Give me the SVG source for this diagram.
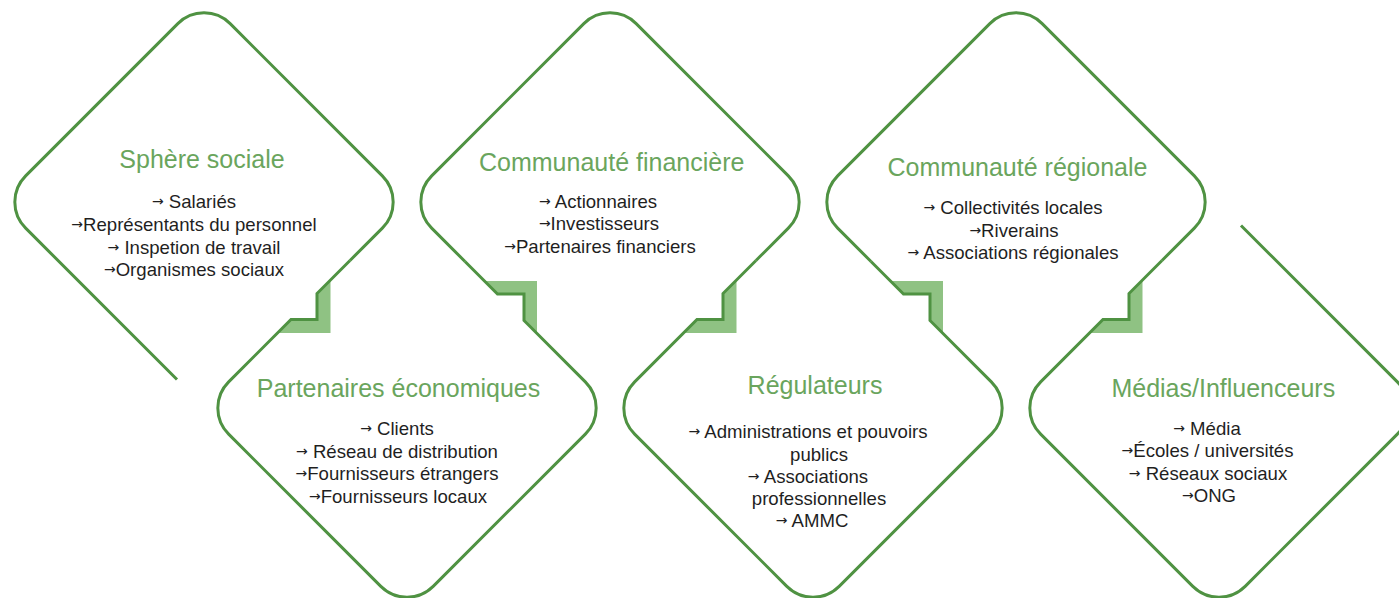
<svg xmlns="http://www.w3.org/2000/svg" width="1399" height="598" viewBox="0 0 1399 598">
<style>
.t{font-family:"Liberation Sans",Arial,sans-serif;font-size:25px;fill:#6aa55d;text-anchor:middle}
.b{font-family:"Liberation Sans",Arial,sans-serif;font-size:18.6px;fill:#1f1f1f;text-anchor:middle}
.ar{font-family:"DejaVu Sans",sans-serif;font-size:14px}
.outline{fill:none;stroke:#4f9242;stroke-width:3;stroke-linejoin:miter;stroke-linecap:butt}
.step{fill:#8fc283;stroke:none}
</style>
<rect width="1399" height="598" fill="#ffffff"/>
<g id="links">
<polygon class="step" points="277.5,333 330.5,333 330.5,280 317,293.5 317,319.5 291,319.5"/>
<polygon class="step" points="683.5,333 736.5,333 736.5,280 723,293.5 723,319.5 697,319.5"/>
<polygon class="step" points="1089.5,333 1142.5,333 1142.5,280 1129,293.5 1129,319.5 1103,319.5"/>
<polygon class="step" points="484.5,281 537,281 537,333.5 524,320.5 524,294 497.5,294"/>
<polygon class="step" points="890.5,281 943,281 943,333.5 930,320.5 930,294 903.5,294"/>
</g>
<g id="sphere-sociale">
<path class="outline" d="M 177 379.5 L 25.66 228.16 A 37 37 0 0 1 25.66 175.84 L 177.84 23.66 A 37 37 0 0 1 230.16 23.66 L 382.34 175.84 A 37 37 0 0 1 382.34 228.16 L 350 260.5"/>
<text class="t" x="202" y="167.5">Sphère sociale</text>
<text class="b" x="194" y="208.3"><tspan class="ar" dy="-2">→</tspan><tspan dy="2"> Salariés</tspan></text>
<text class="b" x="194" y="231"><tspan class="ar" dy="-2">→</tspan><tspan dy="2">Représentants du personnel</tspan></text>
<text class="b" x="194" y="253.5"><tspan class="ar" dy="-2">→</tspan><tspan dy="2"> Inspetion de travail</tspan></text>
<text class="b" x="194" y="276"><tspan class="ar" dy="-2">→</tspan><tspan dy="2">Organismes sociaux</tspan></text>
</g>
<g id="partenaires-economiques">
<path class="outline" d="M 350 260.5 L 317 293.5 L 317 319.5 L 291 319.5 L 228.66 381.84 A 37 37 0 0 0 228.66 434.16 L 380.84 586.34 A 37 37 0 0 0 433.16 586.34 L 585.34 434.16 A 37 37 0 0 0 585.34 381.84 L 524 320.5 L 524 294 L 497.5 294 L 465 261.5"/>
<text class="t" x="398.5" y="396.7">Partenaires économiques</text>
<text class="b" x="397" y="435"><tspan class="ar" dy="-2">→</tspan><tspan dy="2"> Clients</tspan></text>
<text class="b" x="397" y="457.5"><tspan class="ar" dy="-2">→</tspan><tspan dy="2"> Réseau de distribution</tspan></text>
<text class="b" x="397" y="480"><tspan class="ar" dy="-2">→</tspan><tspan dy="2">Fournisseurs étrangers</tspan></text>
<text class="b" x="398" y="502.5"><tspan class="ar" dy="-2">→</tspan><tspan dy="2">Fournisseurs locaux</tspan></text>
</g>
<g id="communaute-financiere">
<path class="outline" d="M 465 261.5 L 431.66 228.16 A 37 37 0 0 1 431.66 175.84 L 583.84 23.66 A 37 37 0 0 1 636.16 23.66 L 788.34 175.84 A 37 37 0 0 1 788.34 228.16 L 756 260.5"/>
<text class="t" x="611.7" y="170.5">Communauté financière</text>
<text class="b" x="598" y="207.7"><tspan class="ar" dy="-2">→</tspan><tspan dy="2"> Actionnaires</tspan></text>
<text class="b" x="599" y="230"><tspan class="ar" dy="-2">→</tspan><tspan dy="2">Investisseurs</tspan></text>
<text class="b" x="600" y="252.5"><tspan class="ar" dy="-2">→</tspan><tspan dy="2">Partenaires financiers</tspan></text>
</g>
<g id="regulateurs">
<path class="outline" d="M 756 260.5 L 723 293.5 L 723 319.5 L 697 319.5 L 634.66 381.84 A 37 37 0 0 0 634.66 434.16 L 786.84 586.34 A 37 37 0 0 0 839.16 586.34 L 991.34 434.16 A 37 37 0 0 0 991.34 381.84 L 930 320.5 L 930 294 L 903.5 294 L 871 261.5"/>
<text class="t" x="815" y="394.3">Régulateurs</text>
<text class="b" x="808" y="438.3"><tspan class="ar" dy="-2">→</tspan><tspan dy="2"> Administrations et pouvoirs</tspan></text>
<text class="b" x="819" y="460.5">publics</text>
<text class="b" x="808" y="482.5"><tspan class="ar" dy="-2">→</tspan><tspan dy="2"> Associations</tspan></text>
<text class="b" x="819" y="505">professionnelles</text>
<text class="b" x="812" y="527.3"><tspan class="ar" dy="-2">→</tspan><tspan dy="2"> AMMC</tspan></text>
</g>
<g id="communaute-regionale">
<path class="outline" d="M 871 261.5 L 837.66 228.16 A 37 37 0 0 1 837.66 175.84 L 989.84 23.66 A 37 37 0 0 1 1042.16 23.66 L 1194.34 175.84 A 37 37 0 0 1 1194.34 228.16 L 1162 260.5"/>
<text class="t" x="1017.5" y="175.7">Communauté régionale</text>
<text class="b" x="1013" y="214.3"><tspan class="ar" dy="-2">→</tspan><tspan dy="2"> Collectivités locales</tspan></text>
<text class="b" x="1014" y="236.7"><tspan class="ar" dy="-2">→</tspan><tspan dy="2">Riverains</tspan></text>
<text class="b" x="1013" y="259.3"><tspan class="ar" dy="-2">→</tspan><tspan dy="2"> Associations régionales</tspan></text>
</g>
<g id="medias-influenceurs">
<path class="outline" d="M 1162 260.5 L 1129 293.5 L 1129 319.5 L 1103 319.5 L 1040.66 381.84 A 37 37 0 0 0 1040.66 434.16 L 1192.84 586.34 A 37 37 0 0 0 1245.16 586.34 L 1397.34 434.16 A 37 37 0 0 0 1397.34 381.84 L 1241 225.5"/>
<text class="t" x="1223.3" y="396.7">Médias/Influenceurs</text>
<text class="b" x="1207" y="435"><tspan class="ar" dy="-2">→</tspan><tspan dy="2"> Média</tspan></text>
<text class="b" x="1207.5" y="457.3"><tspan class="ar" dy="-2">→</tspan><tspan dy="2">Écoles / universités</tspan></text>
<text class="b" x="1208" y="480"><tspan class="ar" dy="-2">→</tspan><tspan dy="2"> Réseaux sociaux</tspan></text>
<text class="b" x="1209" y="501.7"><tspan class="ar" dy="-2">→</tspan><tspan dy="2">ONG</tspan></text>
</g>
</svg>
